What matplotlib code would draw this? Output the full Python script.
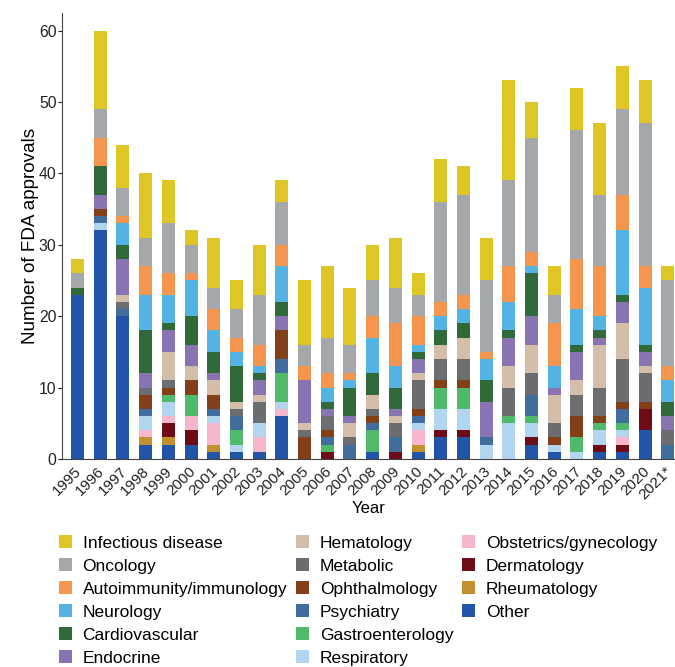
import numpy as np
import matplotlib.pyplot as plt
import matplotlib.transforms as mtrans

plt.rcParams['font.family'] = ['Liberation Sans', 'DejaVu Sans']

years = ['1995', '1996', '1997', '1998', '1999', '2000', '2001', '2002', '2003',
         '2004', '2005', '2006', '2007', '2008', '2009', '2010', '2011', '2012',
         '2013', '2014', '2015', '2016', '2017', '2018', '2019', '2020', '2021*']

# counts per therapeutic area, bottom of the stack first
other     = [23, 32, 20, 2, 2, 2, 1, 1, 1, 6, 0, 0, 0, 1, 0, 1, 3, 3, 0, 0, 2, 1, 0, 1, 1, 4, 0]
rheum     = [0, 0, 0, 1, 1, 0, 1, 0, 0, 0, 0, 0, 0, 0, 0, 1, 0, 0, 0, 0, 0, 0, 0, 0, 0, 0, 0]
derm      = [0, 0, 0, 0, 2, 2, 0, 0, 0, 0, 0, 1, 0, 0, 1, 0, 1, 1, 0, 0, 1, 0, 0, 1, 1, 3, 0]
obst      = [0, 0, 0, 1, 1, 2, 3, 0, 2, 1, 0, 0, 0, 0, 0, 2, 0, 0, 0, 0, 0, 0, 0, 0, 1, 0, 0]
resp      = [0, 1, 0, 2, 2, 0, 1, 1, 2, 1, 0, 0, 0, 0, 0, 1, 3, 3, 2, 5, 2, 1, 1, 2, 1, 0, 0]
gastro    = [0, 0, 0, 0, 1, 3, 0, 2, 0, 4, 0, 1, 0, 3, 0, 0, 3, 3, 0, 1, 1, 0, 2, 1, 1, 0, 0]
psych     = [0, 1, 1, 1, 0, 0, 1, 2, 0, 2, 0, 1, 2, 1, 2, 1, 0, 0, 1, 0, 3, 0, 0, 0, 2, 0, 2]
ophth     = [0, 1, 0, 2, 1, 2, 2, 0, 0, 4, 3, 1, 0, 1, 0, 1, 1, 1, 0, 0, 0, 1, 3, 1, 1, 1, 0]
metab     = [0, 0, 1, 1, 1, 0, 0, 1, 3, 0, 1, 2, 1, 1, 2, 4, 3, 3, 0, 4, 3, 2, 3, 4, 6, 4, 2]
hema      = [0, 0, 1, 0, 4, 2, 2, 1, 1, 0, 1, 0, 2, 2, 1, 1, 2, 3, 0, 3, 4, 4, 2, 6, 5, 1, 0]
endo      = [0, 2, 5, 2, 3, 3, 1, 0, 2, 2, 6, 1, 1, 0, 1, 2, 0, 0, 5, 4, 4, 1, 4, 1, 3, 2, 2]
cardio    = [1, 4, 2, 6, 1, 4, 3, 5, 1, 2, 0, 1, 4, 3, 3, 1, 2, 2, 3, 1, 6, 0, 1, 1, 1, 1, 2]
neuro     = [0, 0, 3, 5, 4, 5, 3, 2, 1, 5, 0, 2, 1, 5, 3, 1, 2, 2, 3, 4, 1, 3, 5, 2, 9, 8, 3]
autoimm   = [0, 4, 1, 4, 3, 1, 3, 2, 3, 3, 2, 2, 1, 3, 6, 4, 2, 2, 1, 5, 2, 6, 7, 7, 5, 3, 2]
oncology  = [2, 4, 4, 4, 7, 4, 3, 4, 7, 6, 3, 5, 4, 5, 5, 3, 14, 14, 10, 12, 16, 4, 18, 10, 12, 20, 12]
infect    = [2, 11, 6, 9, 6, 2, 7, 4, 7, 3, 9, 10, 8, 5, 7, 3, 6, 4, 6, 14, 5, 4, 6, 10, 6, 6, 2]

series = [
    ('Other', other, '#2254A7'),
    ('Rheumatology', rheum, '#C3902F'),
    ('Dermatology', derm, '#6E0B17'),
    ('Obstetrics/gynecology', obst, '#F6B6CC'),
    ('Respiratory', resp, '#B2D6F0'),
    ('Gastroenterology', gastro, '#50B96A'),
    ('Psychiatry', psych, '#416C9E'),
    ('Ophthalmology', ophth, '#823F18'),
    ('Metabolic', metab, '#6C6D70'),
    ('Hematology', hema, '#D4BDA9'),
    ('Endocrine', endo, '#8874B3'),
    ('Cardiovascular', cardio, '#2F6A38'),
    ('Neurology', neuro, '#52B3E4'),
    ('Autoimmunity/immunology', autoimm, '#F5964F'),
    ('Oncology', oncology, '#A5A8AB'),
    ('Infectious disease', infect, '#DFC627'),
]

fig = plt.figure(figsize=(6.75, 6.67), dpi=100)
ax = fig.add_axes([0.092, 0.312, 0.908, 0.669])

x = np.arange(len(years))
bottom = np.zeros(len(years))
handles = []
for name, vals, col in series:
    b = ax.bar(x, vals, 0.57, bottom=bottom, color=col, label=name, linewidth=0)
    bottom += np.array(vals)
    handles.append(b)

ax.set_xlim(-0.68, 26.32)
ax.set_ylim(0, 62.5)
ax.set_yticks(range(0, 61, 10))
ax.set_xticks(x)
ax.set_xticklabels(years, rotation=45, ha='right', rotation_mode='anchor')
ax.tick_params(axis='both', labelsize=11.3, colors='#222222', length=3, width=0.8, pad=1)
ax.tick_params(axis='x', length=0, pad=4, labelsize=11)
shift = mtrans.ScaledTranslation(-3 / 100, 0, fig.dpi_scale_trans)
for lab in ax.get_xticklabels():
    lab.set_transform(lab.get_transform() + shift)
for s in ['top', 'right']:
    ax.spines[s].set_visible(False)
for s in ['left', 'bottom']:
    ax.spines[s].set_color('#444444')
ax.set_ylabel('Number of FDA approvals', fontsize=13.6, labelpad=0)
ax.set_xlabel('Year', fontsize=12, labelpad=-1)

# legend: three columns of 6, 6 and 4 entries, placed one by one
leg_h = handles[::-1]
leg_l = [s[0] for s in series][::-1]
col_x = [0.087, 0.4385, 0.6845]
for i, cx in enumerate(col_x):
    leg = fig.legend(leg_h[6 * i:6 * i + 6], leg_l[6 * i:6 * i + 6],
                     loc='upper left', bbox_to_anchor=(cx, 0.1975),
                     frameon=False, fontsize=12.5, handlelength=0.77, handleheight=0.77,
                     handletextpad=0.6, labelspacing=0.43,
                     borderpad=0, borderaxespad=0)

fig.savefig('out.png', dpi=100)
